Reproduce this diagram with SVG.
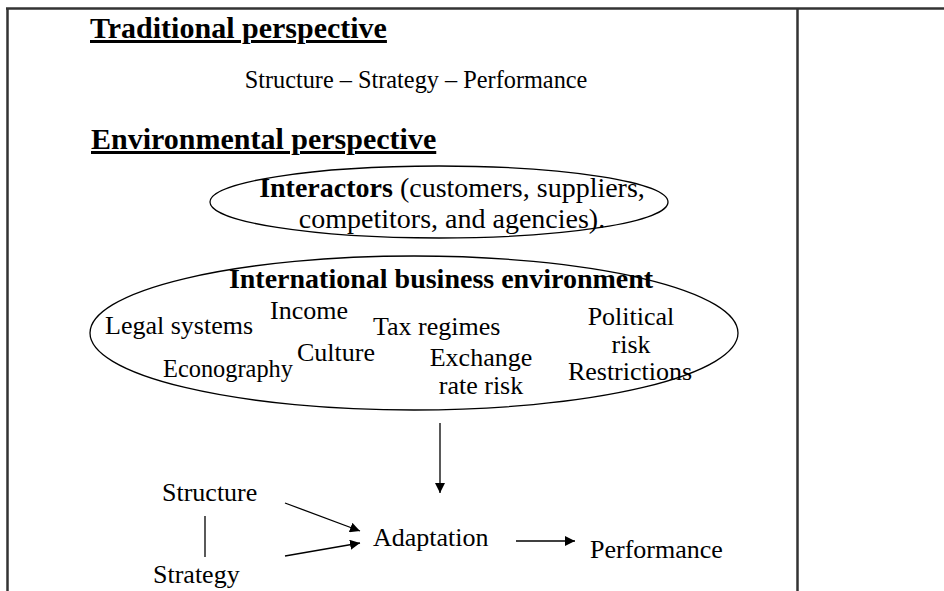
<svg xmlns="http://www.w3.org/2000/svg" width="944" height="591" viewBox="0 0 944 591">
<style>
text{font-family:"Liberation Serif","Times New Roman",serif;fill:#000}
.h{font-weight:bold;font-size:30px;text-decoration:underline}
.t{font-size:24.3px}
.b{font-size:26px}
.e{font-size:28px}
.c{text-anchor:middle}
.frame{stroke:#333;stroke-width:2.5;fill:none}
.ell{fill:none;stroke:#000;stroke-width:1.3}
.con{stroke:#000;stroke-width:1.3;fill:none;marker-end:url(#ah)}
</style>
<defs>
<marker id="ah" viewBox="0 0 10 10" refX="10" refY="5" markerWidth="10" markerHeight="10" markerUnits="userSpaceOnUse" orient="auto">
<path d="M0,0 L10,5 L0,10 z" fill="#000"/>
</marker>
</defs>
<rect width="944" height="591" fill="#fff"/>
<g id="frame">
<line class="frame" x1="6" y1="8.5" x2="944" y2="8.5"/>
<line class="frame" x1="7.5" y1="8" x2="7.5" y2="591"/>
<line class="frame" x1="797.5" y1="8" x2="797.5" y2="591"/>
</g>
<g id="traditional">
<text class="h" x="90" y="38">Traditional perspective</text>
<text class="t c" x="416" y="88">Structure – Strategy – Performance</text>
</g>
<g id="environmental">
<text class="h" x="91" y="149">Environmental perspective</text>
</g>
<g id="interactors">
<ellipse class="ell" cx="439" cy="202" rx="229" ry="36"/>
<text class="e c" x="452" y="197"><tspan font-weight="bold">Interactors</tspan> (customers, suppliers,</text>
<text class="e c" x="452" y="228">competitors, and agencies).</text>
</g>
<g id="environment">
<ellipse class="ell" cx="414" cy="333" rx="324" ry="77"/>
<text class="e c" x="441" y="288" font-weight="bold">International business environment</text>
<text class="b c" x="309" y="319">Income</text>
<text class="b" x="105" y="334">Legal systems</text>
<text class="b" x="373" y="335">Tax regimes</text>
<text class="b c" x="631" y="325">Political</text>
<text class="b c" x="631" y="353">risk</text>
<text class="b c" x="630" y="380">Restrictions</text>
<text class="b" x="297" y="361">Culture</text>
<text class="b" x="163" y="377" textLength="130" lengthAdjust="spacingAndGlyphs">Econography</text>
<text class="b c" x="481" y="366">Exchange</text>
<text class="b c" x="481" y="394">rate risk</text>
</g>
<g id="structure"><text class="b" x="162" y="501">Structure</text></g>
<g id="strategy"><text class="b" x="153" y="583">Strategy</text></g>
<g id="adaptation"><text class="b" x="373" y="546">Adaptation</text></g>
<g id="performance"><text class="b" x="590" y="558">Performance</text></g>
<g id="connectors">
<line class="con" x1="440" y1="423" x2="440" y2="493"/>
<line x1="205" y1="516" x2="205" y2="557" stroke="#000" stroke-width="1.3"/>
<line class="con" x1="285" y1="503" x2="360" y2="531"/>
<line class="con" x1="285" y1="556" x2="360" y2="543"/>
<line class="con" x1="516" y1="541" x2="575" y2="541"/>
</g>
</svg>
